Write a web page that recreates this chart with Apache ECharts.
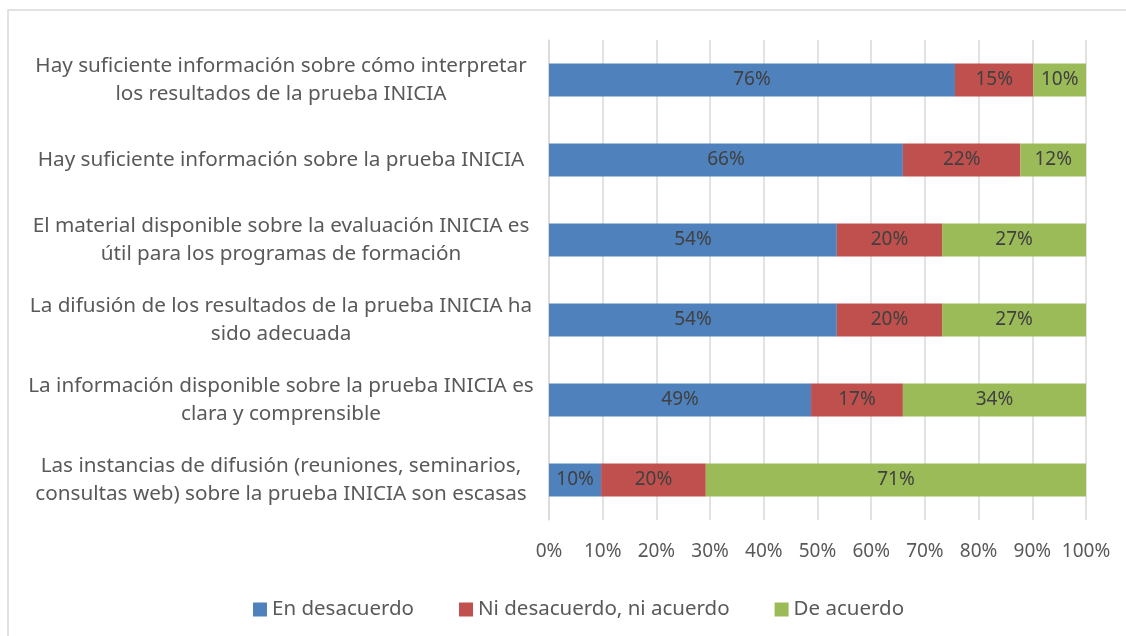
<!DOCTYPE html>
<html>
<head>
<meta charset="utf-8">
<script src="https://cdn.jsdelivr.net/npm/echarts@6/dist/echarts.min.js"></script>
<style>
  html, body { margin: 0; padding: 0; background: #fff; }
  #chart { width: 1126px; height: 636px; }
</style>
</head>
<body>
<div id="chart"></div>
<script>
// categories, top to bottom
const categories = [
  'Hay suficiente información sobre cómo interpretar\nlos resultados de la prueba INICIA',
  'Hay suficiente información sobre la prueba INICIA',
  'El material disponible sobre la evaluación INICIA es\nútil para los programas de formación',
  'La difusión de los resultados de la prueba INICIA ha\nsido adecuada',
  'La información disponible sobre la prueba INICIA es\nclara y comprensible',
  'Las instancias de difusión (reuniones, seminarios,\nconsultas web) sobre la prueba INICIA son escasas'
];
const seriesNames = ['En desacuerdo', 'Ni desacuerdo, ni acuerdo', 'De acuerdo'];
const enDesacuerdo = [75.6, 65.9, 53.6, 53.6, 48.8, 9.7];
const niDesacuerdo = [14.6, 21.9, 19.6, 19.6, 17.1, 19.5];
const deAcuerdo = [9.8, 12.2, 26.8, 26.8, 34.1, 70.8];
const colors = ['#4F81BD', '#C0504D', '#9BBB59'];

const font = '"Noto Sans", "Open Sans", sans-serif';
const chart = echarts.init(document.getElementById('chart'));

const mkSeries = (name, data, color) => ({
  name,
  type: 'bar',
  stack: 'total',
  barWidth: '41%',
  data,
  itemStyle: { color },
  label: {
    show: true,
    position: 'inside',
    color: '#404040',
    fontFamily: font,
    fontSize: 19,
    formatter: p => Math.round(p.value) + '%'
  }
});

chart.setOption({
  animation: false,
  textStyle: { fontFamily: font },
  grid: { left: 549, right: 40, top: 40, bottom: 116, containLabel: false },
  xAxis: {
    type: 'value',
    min: 0,
    max: 100,
    interval: 10,
    axisLine: { show: false },
    axisTick: { show: false },
    splitLine: { lineStyle: { color: '#d9d9d9', width: 1.5 } },
    axisLabel: {
      formatter: '{value}%',
      color: '#595959',
      fontSize: 19,
      margin: 22
    }
  },
  yAxis: {
    type: 'category',
    inverse: true,
    data: categories,
    axisLine: { show: true, lineStyle: { color: '#d9d9d9', width: 1.5 } },
    axisTick: { show: false },
    axisLabel: {
      color: '#595959',
      fontSize: 20.7,
      lineHeight: 28,
      align: 'center',
      margin: 268
    }
  },
  legend: {
    data: seriesNames,
    left: 248,
    top: 594,
    itemWidth: 14,
    itemHeight: 14,
    itemGap: 45,
    icon: 'rect',
    textStyle: { color: '#595959', fontSize: 20.5 }
  },
  graphic: [{
    type: 'rect',
    shape: { x: 8, y: 10, width: 1200, height: 700 },
    style: { fill: 'none', stroke: '#d9d9d9', lineWidth: 1.5 },
    silent: true
  }],
  series: [
    mkSeries(seriesNames[0], enDesacuerdo, colors[0]),
    mkSeries(seriesNames[1], niDesacuerdo, colors[1]),
    mkSeries(seriesNames[2], deAcuerdo, colors[2])
  ]
});
</script>
</body>
</html>
